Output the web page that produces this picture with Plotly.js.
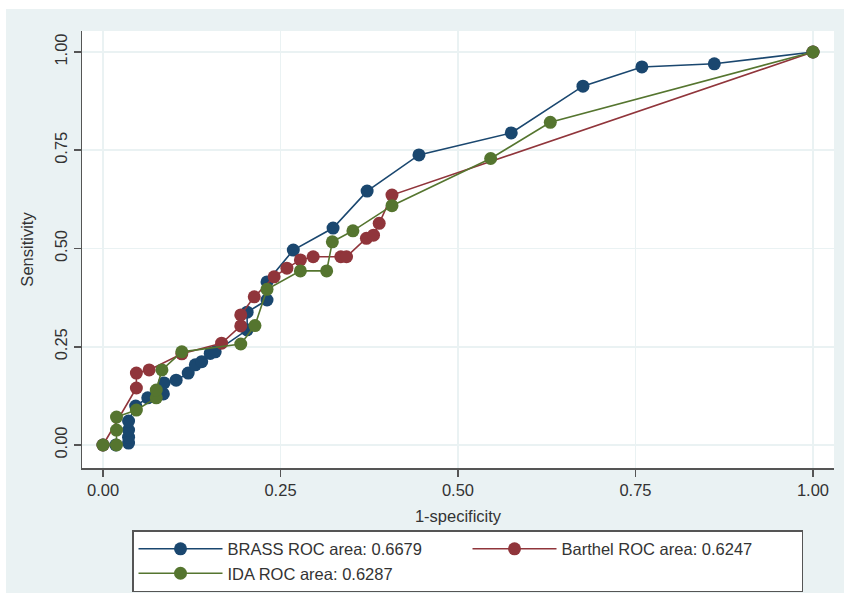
<!DOCTYPE html>
<html>
<head>
<meta charset="utf-8">
<script src="https://cdn.plot.ly/plotly-3.0.1.min.js"></script>
<style>
html, body { margin: 0; padding: 0; background: #ffffff; overflow: hidden; width: 844px; height: 593px; }
#chart { position: absolute; left: 6px; top: 9px; width: 838px; height: 640px; }
</style>
</head>
<body>
<div id="chart"></div>
<script>
// ROC points: 1-specificity (x) and sensitivity (y)
const brassX = [0, 0.018, 0.036, 0.036, 0.036, 0.036, 0.046, 0.063, 0.085, 0.086, 0.103, 0.120, 0.130, 0.139, 0.151, 0.158, 0.203, 0.203, 0.231, 0.231, 0.268, 0.324, 0.372, 0.445, 0.575, 0.676, 0.759, 0.861, 1.0];
const brassY = [0, 0, 0.005, 0.020, 0.038, 0.061, 0.099, 0.120, 0.130, 0.158, 0.165, 0.183, 0.204, 0.212, 0.233, 0.237, 0.293, 0.338, 0.369, 0.415, 0.496, 0.552, 0.646, 0.738, 0.794, 0.913, 0.962, 0.970, 1.0];

const barthelX = [0, 0.047, 0.047, 0.065, 0.111, 0.167, 0.194, 0.194, 0.213, 0.241, 0.259, 0.278, 0.296, 0.335, 0.343, 0.371, 0.381, 0.389, 0.407, 1.0];
const barthelY = [0, 0.145, 0.183, 0.191, 0.232, 0.259, 0.303, 0.331, 0.377, 0.428, 0.450, 0.471, 0.479, 0.479, 0.479, 0.526, 0.534, 0.564, 0.636, 1.0];

const idaX = [0, 0.019, 0.019, 0.019, 0.047, 0.075, 0.075, 0.083, 0.111, 0.194, 0.214, 0.231, 0.278, 0.315, 0.323, 0.352, 0.407, 0.546, 0.630, 1.0];
const idaY = [0, 0, 0.038, 0.071, 0.089, 0.120, 0.140, 0.191, 0.237, 0.257, 0.304, 0.396, 0.443, 0.443, 0.517, 0.545, 0.609, 0.729, 0.821, 1.0];

const seriesNames = ["BRASS ROC area: 0.6679", "Barthel ROC area: 0.6247", "IDA ROC area: 0.6287"];
const tickVals = [0, 0.25, 0.5, 0.75, 1];
const tickText = ["0.00", "0.25", "0.50", "0.75", "1.00"];

const colors = ["#1a476f", "#90353b", "#55752f"];
const FONT = "Liberation Sans, Arial, sans-serif";

function tr(x, y, name, color) {
  return {
    x: x, y: y, name: name, type: "scatter", mode: "lines+markers",
    line: { color: color, width: 1.6 },
    marker: { color: color, size: 13 }
  };
}

const data = [
  tr(brassX, brassY, seriesNames[0], colors[0]),
  tr(barthelX, barthelY, seriesNames[1], colors[1]),
  tr(idaX, idaY, seriesNames[2], colors[2])
];

const axisCommon = {
  tickvals: tickVals, ticktext: tickText,
  showline: true, linecolor: "#555555", linewidth: 1.5,
  ticks: "outside", ticklen: 7, tickwidth: 1.5, tickcolor: "#555555",
  showgrid: true, gridcolor: "#eaf2f3", gridwidth: 1.5,
  zeroline: false, mirror: false,
  tickfont: { family: FONT, size: 16.5, color: "#333333" }
};

const layout = {
  width: 838, height: 640,
  margin: { l: 76, r: 10, t: 22, b: 181, pad: 0 },
  paper_bgcolor: "#eaf2f3",
  plot_bgcolor: "#ffffff",
  font: { family: FONT, size: 16.5, color: "#333333" },
  showlegend: true,
  xaxis: Object.assign({}, axisCommon, {
    range: [-0.0296, 1.0296],
    title: { text: "1-specificity", font: { family: FONT, size: 16.5, color: "#333333" }, standoff: 12 }
  }),
  yaxis: Object.assign({}, axisCommon, {
    range: [-0.0585, 1.0534],
    tickangle: -90,
    title: { text: "Sensitivity", font: { family: FONT, size: 16.5, color: "#333333" }, standoff: 14 }
  }),
  legend: {
    orientation: "h",
    x: 0.0665, xanchor: "left",
    y: -0.1420, yanchor: "top",
    bgcolor: "#ffffff", bordercolor: "#555555", borderwidth: 1.5,
    font: { family: FONT, size: 16.5, color: "#333333" },
    entrywidth: 235, entrywidthmode: "pixels",
    itemwidth: 84,
    traceorder: "normal"
  }
};

Plotly.newPlot("chart", data, layout, { displayModeBar: false, staticPlot: true });
</script>
</body>
</html>
